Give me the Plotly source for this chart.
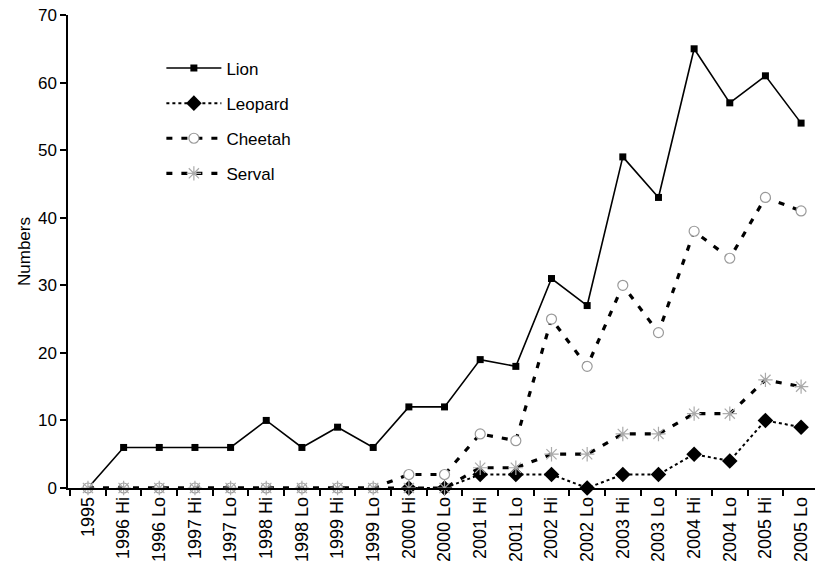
import plotly.graph_objects as go

categories = ["1995", "1996 Hi", "1996 Lo", "1997 Hi", "1997 Lo", "1998 Hi", "1998 Lo",
              "1999 Hi", "1999 Lo", "2000 Hi", "2000 Lo", "2001 Hi", "2001 Lo",
              "2002 Hi", "2002 Lo", "2003 Hi", "2003 Lo", "2004 Hi", "2004 Lo",
              "2005 Hi", "2005 Lo"]
lion = [0, 6, 6, 6, 6, 10, 6, 9, 6, 12, 12, 19, 18, 31, 27, 49, 43, 65, 57, 61, 54]
leopard = [None, None, None, None, None, None, None, None, None, 0, 0, 2, 2, 2, 0, 2, 2, 5, 4, 10, 9]
cheetah = [0, 0, 0, 0, 0, 0, 0, 0, 0, 2, 2, 8, 7, 25, 18, 30, 23, 38, 34, 43, 41]
serval = [0, 0, 0, 0, 0, 0, 0, 0, 0, 0, 0, 3, 3, 5, 5, 8, 8, 11, 11, 16, 15]
y_ticks = [0, 10, 20, 30, 40, 50, 60, 70]

FONT = "Liberation Sans, Arial, sans-serif"

fig = go.Figure()
fig.add_trace(go.Scatter(
    x=categories, y=lion, name="Lion", mode="lines+markers", legendgroup="a",
    line=dict(color="black", width=1.6),
    marker=dict(symbol="square", size=7, color="black"), cliponaxis=False))
fig.add_trace(go.Scatter(
    x=categories, y=leopard, name="Leopard", mode="lines+markers", legendgroup="b",
    line=dict(color="black", width=2, dash="dot"),
    marker=dict(symbol="diamond", size=12, color="black"), cliponaxis=False))
fig.add_trace(go.Scatter(
    x=categories, y=cheetah, name="Cheetah", mode="lines+markers", legendgroup="c",
    line=dict(color="black", width=3.2, dash="6px,9px"),
    marker=dict(symbol="circle", size=10, color="white",
                line=dict(color="#9a9a9a", width=1.2)), cliponaxis=False))
fig.add_trace(go.Scatter(
    x=categories, y=serval, name="Serval", mode="lines+markers", legendgroup="d",
    line=dict(color="black", width=3.2, dash="6px,9px"),
    marker=dict(symbol="asterisk-open", size=12, color="#aaaaaa",
                line=dict(color="#aaaaaa", width=1.2)), cliponaxis=False))

fig.update_layout(
    width=815, height=581,
    margin=dict(l=68, r=0, t=15, b=93),
    paper_bgcolor="white", plot_bgcolor="white",
    font=dict(family=FONT, size=14, color="black"),
    showlegend=True,
    legend=dict(x=0.125, y=0.925, xanchor="left", yanchor="top",
                font=dict(family=FONT, size=17, color="black"),
                traceorder="grouped", tracegroupgap=10, itemwidth=55,
                bgcolor="rgba(0,0,0,0)"),
    xaxis=dict(type="category", range=[-0.56, 20.39], tickson="boundaries",
               ticks="outside", ticklen=6, tickcolor="black", tickwidth=1.5,
               showline=True, linecolor="black", linewidth=1.5,
               showgrid=False, tickangle=-90, zeroline=False, automargin=False,
               tickfont=dict(family=FONT, size=18, color="black")),
    yaxis=dict(range=[0, 70], tickvals=y_ticks, ticks="outside", ticklen=6,
               tickcolor="black", tickwidth=1.5,
               showline=True, linecolor="black", linewidth=1.5,
               showgrid=False, zeroline=False, automargin=False,
               tickfont=dict(family=FONT, size=17, color="black"),
               title=dict(text="Numbers", font=dict(family=FONT, size=17, color="black"),
                          standoff=3)),
)

fig.write_html("out.html", config={"displayModeBar": False},
               post_script="document.body.style.margin='0';document.body.style.overflow='hidden';")
